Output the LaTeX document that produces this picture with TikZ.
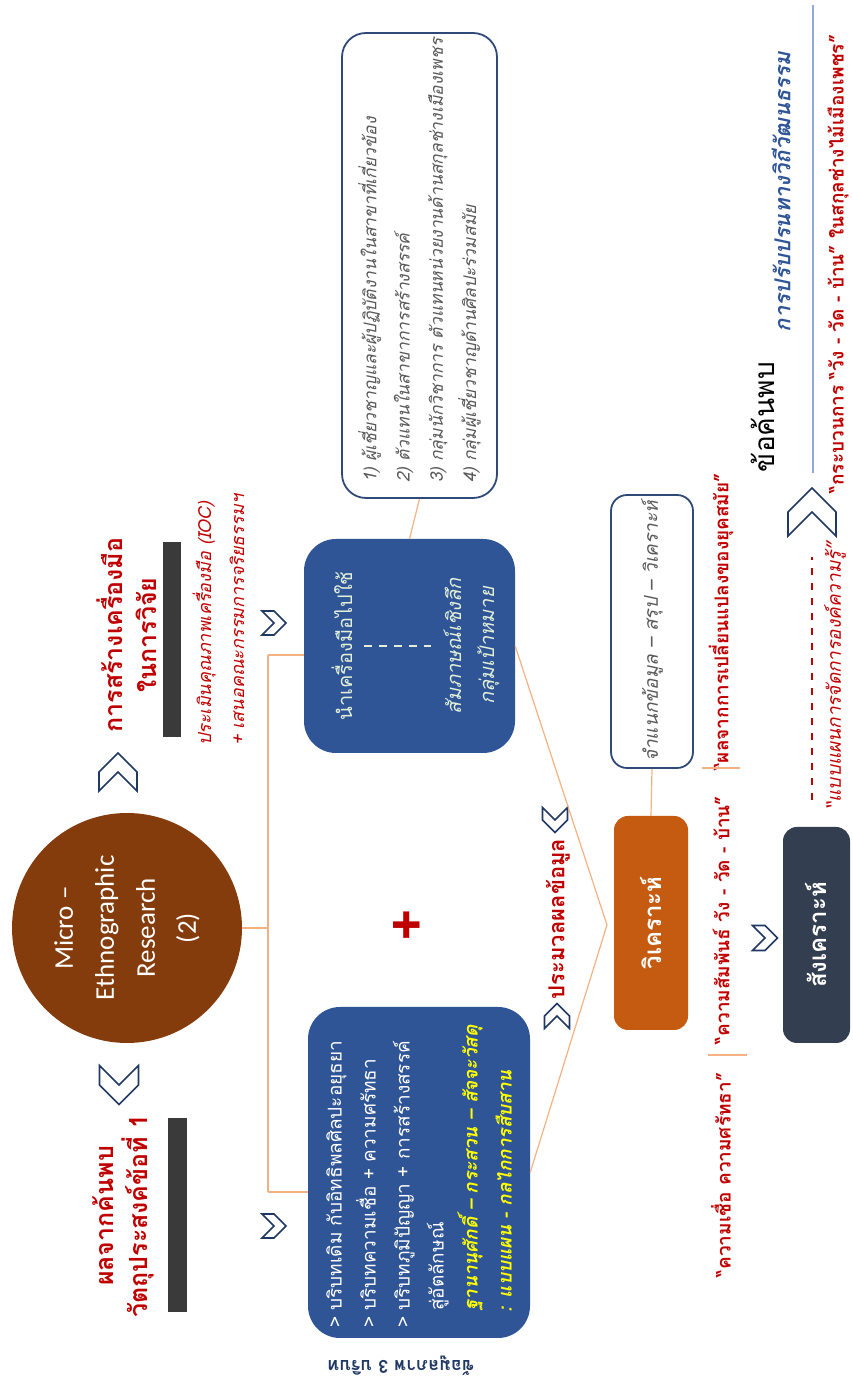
\documentclass[tikz,border=0pt]{standalone}
\usepackage{fontspec}
\setmainfont[Script=Thai]{Loma}
\newfontfamily\latinfont{Carlito}
\usepackage{xcolor}
\usetikzlibrary{positioning,calc}

\definecolor{boxblue}{HTML}{2F5597}
\definecolor{microbrown}{HTML}{843C0C}
\definecolor{rustorange}{HTML}{C55A11}
\definecolor{slatebox}{HTML}{333F50}
\definecolor{headred}{HTML}{C00000}
\definecolor{linkorange}{HTML}{F4B183}
\definecolor{chevnavy}{HTML}{203864}
\definecolor{framenavy}{HTML}{2F4A78}
\definecolor{notegray}{HTML}{595959}
\definecolor{rulerblue}{HTML}{8FAADC}
\definecolor{paletext}{HTML}{E2F0D9}
\definecolor{bargray}{HTML}{3A3A3A}
\definecolor{hiyellow}{HTML}{FFFF00}

\newcommand{\thsize}[2]{\fontsize{#1}{#2}\selectfont}

\begin{document}
\begin{tikzpicture}[
  x=1pt, y=1pt,
  headline/.style={font=\bfseries\thsize{25}{34}, text=headred, align=center, inner sep=0pt},
  bar/.style={fill=bargray, draw=none, inner sep=0pt},
  bluebox/.style={fill=boxblue, draw=none, rounded corners=32pt, inner sep=0pt},
  framebox/.style={draw=framenavy, line width=1.8pt, fill=white, rounded corners=24pt, inner sep=0pt},
  tooltext/.style={text=paletext, font=\thsize{20}{33}, align=center, inner sep=2pt},
  quotetxt/.style={font=\bfseries\thsize{19}{24}, text=headred, inner sep=0pt},
  link/.style={draw=linkorange, line width=1.2pt},
  chev/.pic={\draw[chevnavy, line width=1.6pt, fill=white, line join=miter]
    (-0.5,-0.5) -- (0,-0.5) -- (0.5,0) -- (0,0.5) -- (-0.5,0.5) -- (0,0) -- cycle;}
]
\useasboundingbox (0,0) rectangle (852,1377);

% slide drawn in landscape and turned onto the page
\begin{scope}[rotate=90, transform shape]

% left title
\node[headline] (findhead) at (161,-123) {ผลจากค้นพบ\\วัตถุประสงค์ข้อที่ 1};
\node[bar, minimum width=194, minimum height=19] (findbar) at (162,-177.5) {};

% centre circle
\node[circle, fill=microbrown, minimum size=230pt, inner sep=0pt, text=white,
  font=\latinfont\thsize{27}{41}, align=center] (micro) at (449,-127)
  {Micro –\\Ethnographic\\Research\\(2)};
\pic[rotate=180, scale=39] at (292,-119) {chev};
\pic[scale=38] at (605,-118) {chev};

% right title
\node[headline] (toolhead) at (742,-126.5) {การสร้างเครื่องมือ\\ในการวิจัย};
\node[bar, minimum width=195, minimum height=18] (toolbar) at (737.5,-172) {};
\node[font=\itshape\thsize{18}{33}, text=headred, align=left, anchor=west, inner sep=0pt]
  (ioc) at (631,-218.5) {ประเมินคุณภาพเครื่องมือ (IOC)\\+ เสนอคณะกรรมการจริยธรรมฯ};

\pic[rotate=-90, scale=24] at (754,-274) {chev};
\pic[rotate=-90, scale=24] at (151,-274) {chev};

% blue blocks
\node[bluebox, minimum width=214, minimum height=211] (tool) at (731,-409.5) {};
\node[tooltext] (useinst) at (731,-342) {นำเครื่องมือไปใช้};
\node[tooltext, font=\itshape\thsize{20}{33}] (interview) at (731,-471.5) {สัมภาษณ์เชิงลึก\\กลุ่มเป้าหมาย};
\draw[paletext, line width=1.5pt, dash pattern=on 8pt off 7pt, shorten <=9pt, shorten >=10pt]
  (useinst) -- (interview);

\node[bluebox, minimum width=331, minimum height=222, text width=311, align=left,
  inner xsep=10pt, text=white, font=\thsize{19}{34}] (context) at (204.5,-419) {%
  > บริบทเดิม กับอิทธิพลศิลปะอยุธยา\\
  > บริบทความเชื่อ + ความศรัทธา\\
  > บริบทภูมิปัญญา + การสร้างสรรค์\\
  \hspace*{17pt}สู่อัตลักษณ์\\
  \hspace*{17pt}{\color{hiyellow}\bfseries\itshape ฐานานุศักดิ์ – กระสวน – สัจจะวัสดุ}\\
  \hspace*{15pt}{\color{hiyellow}\bfseries\itshape : แบบแผน - กลไกการสืบสาน}};

\node[framebox, minimum width=465, minimum height=155, text width=451, align=left,
  inner xsep=7pt, text=notegray, font=\itshape\thsize{17.5}{33.3}] (experts) at (1111.5,-419.5) {%
  \hspace*{8pt}1) ผู้เชี่ยวชาญและผู้ปฏิบัติงานในสาขาที่เกี่ยวข้อง\\
  \hspace*{8pt}2) ตัวแทนในสาขาการสร้างสรรค์\\
  \hspace*{8pt}3) กลุ่มนักวิชาการ ตัวแทนหน่วยงานด้านสกุลช่างเมืองเพชร\\
  \hspace*{8pt}4) กลุ่มผู้เชี่ยวชาญด้านศิลปะร่วมสมัย};

\node[text=headred, font=\bfseries\thsize{56}{56}, inner sep=0pt] (plus) at (452,-410) {+};

% processing
\node[headline, font=\bfseries\thsize{22}{26}] (process) at (458,-558) {ประมวลผลข้อมูล};
\pic[rotate=180, scale=25] at (557,-555) {chev};
\pic[scale=25] at (361,-557) {chev};

\node[fill=rustorange, rounded corners=14pt, minimum width=214, minimum height=74,
  text=white, font=\bfseries\thsize{24}{28}] (analyse) at (454,-651) {วิเคราะห์};
\node[framebox, rounded corners=16pt, minimum width=273, minimum height=82,
  text=notegray, font=\itshape\thsize{19}{24}] (classify) at (745.5,-652) {จำแนกข้อมูล – สรุป – วิเคราะห์};

% connectors
\coordinate (fork) at (449,-268);
\coordinate (forkL) at (185,-268);
\coordinate (forkR) at (722,-268);
\coordinate (merge) at (452,-607);
\draw[link] (micro.south) -- (fork);
\draw[link] (forkL) -- (forkR);
\draw[link] (forkR) -- ($(tool.north)+(-9,0)$);
\draw[link] (forkL) -- ($(context.north)+(-19.5,0)$);
\draw[link] (tool.east) -- (experts.west);
\draw[link] (tool.south) -- (merge);
\draw[link] (context.south) -- (merge);
\draw[link] (analyse.east) -- (classify.west);

% quotes under the analysis
\node[quotetxt] (belief) at (202,-721) {“ความเชื่อ ความศรัทธา”};
\node[quotetxt] (relation) at (457,-721) {“ความสัมพันธ์ วัง - วัด - บ้าน”};
\node[quotetxt] (change) at (755,-721) {“ผลจากการเปลี่ยนแปลงของยุคสมัย”};
\draw[link] (322,-708) -- (322,-747);
\draw[link] (609,-702) -- (609,-740);

\draw[headred, line width=1.3pt, dash pattern=on 7pt off 8pt] (577,-812) -- (820,-812);
\node[font=\itshape\thsize{19}{24}, text=headred, inner sep=0pt] (pattern) at (701,-835)
  {“แบบแผนการจัดการองค์ความรู้”};

\pic[rotate=-90, scale=25] at (439,-765) {chev};
\node[fill=slatebox, rounded corners=14pt, minimum width=216, minimum height=67,
  text=white, font=\bfseries\thsize{24}{28}] (synth) at (442,-816.5) {สังเคราะห์};

% findings
\pic[scale=48] at (865,-812) {chev};
\node[font=\thsize{28}{30}, inner sep=0pt] (findings) at (960,-763) {ข้อค้นพบ};
\node[font=\bfseries\itshape\thsize{22}{26}, text=boxblue, inner sep=0pt] (adapt) at (1185,-781)
  {การปรับปรนทางวิถีวัฒนธรรม};
\draw[rulerblue, line width=1.5pt] (904,-813) -- (1372,-813);
\node[quotetxt] (wangwat) at (1113,-838) {“กระบวนการ “วัง - วัด - บ้าน” ในสกุลช่างไม้เมืองเพชร”};

\node[font=\bfseries\thsize{18}{20}, text=chevnavy, rotate=90, inner sep=0pt] (threectx) at (11,-401)
  {ข้อมูลภาพ 3 บริบท};

\end{scope}
\end{tikzpicture}
\end{document}
